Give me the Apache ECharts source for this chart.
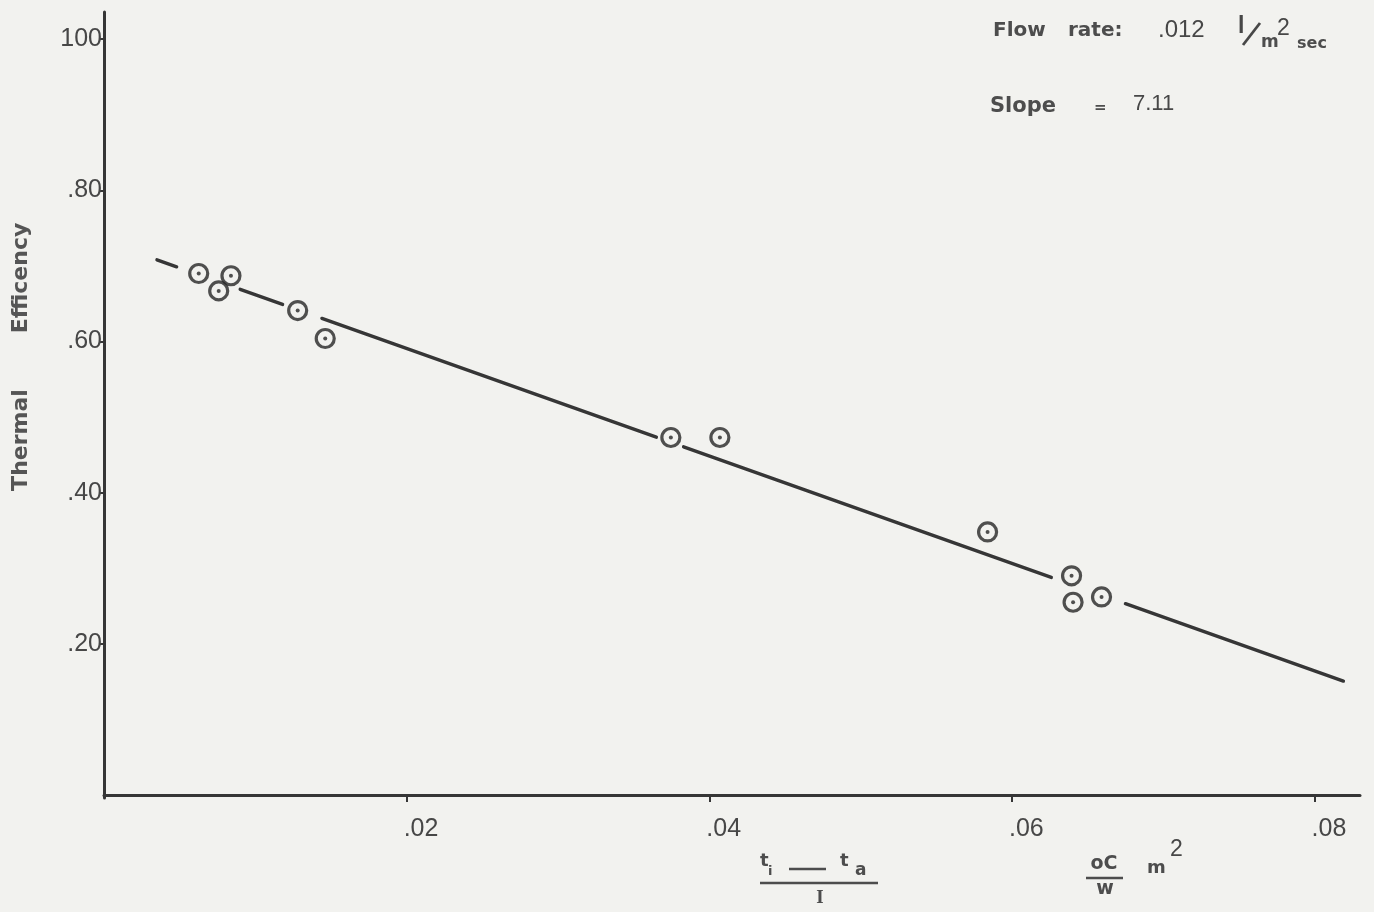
<!DOCTYPE html>
<html>
<head>
<meta charset="utf-8">
<script src="https://cdn.jsdelivr.net/npm/echarts@6/dist/echarts.min.js"></script>
<style>
  html, body { margin: 0; padding: 0; background: #f2f2ef; }
  #chart { width: 1374px; height: 912px; }
</style>
</head>
<body>
<div id="chart"></div>
<script>
// Axis ticks and their printed labels
const xTickValues = [0.02, 0.04, 0.06, 0.08];
const xTickLabels = ['.02', '.04', '.06', '.08'];
const yTickValues = [0.2, 0.4, 0.6, 0.8, 1.0];
const yTickLabels = ['.20', '.40', '.60', '.80', '100'];

// Measured points: (ti - ta) / I  versus thermal efficiency
const heatLoss = [0.00626, 0.00758, 0.00839, 0.0128, 0.01462, 0.03746, 0.0407, 0.05839, 0.06394, 0.06404, 0.06592];
const efficiency = [0.690, 0.667, 0.687, 0.641, 0.604, 0.473, 0.473, 0.348, 0.290, 0.255, 0.262];

// Fitted straight line (slope 7.11), drawn in pieces that stop short of the circles
const fitIntercept = 0.733;
const fitSlope = 7.11;
const fitSegments = [[0.0035, 0.0048], [0.0090, 0.0118], [0.0144, 0.0365], [0.0383, 0.0626], [0.0675, 0.0819]];

const ink = '#363636';
const markInk = '#262626';
const textInk = '#474747';
const noteInk = '#4d4d4d';
const points = heatLoss.map((x, i) => [x, efficiency[i]]);
const fitY = x => fitIntercept - fitSlope * x;

function pickLabel(values, labels) {
  return v => {
    const i = values.findIndex(t => Math.abs(t - v) < 1e-9);
    return i >= 0 ? labels[i] : '';
  };
}

const lineSeries = fitSegments.map(([a, b]) => ({
  type: 'line',
  data: [[a, fitY(a)], [b, fitY(b)]],
  symbol: 'none',
  silent: true,
  lineStyle: { color: ink, width: 3.4, cap: 'round' },
  z: 2
}));

const plainFont = 'Liberation Sans';
const boldFont = '"DejaVu Sans"';

const txt = (x, y, text, font, extra) => ({
  type: 'text', x, y,
  style: Object.assign({ text, fill: noteInk, font, align: 'left', verticalAlign: 'middle' }, extra || {})
});

const chart = echarts.init(document.getElementById('chart'), null, { renderer: 'canvas' });

chart.setOption({
  backgroundColor: '#f2f2ef',
  animation: false,
  grid: { left: 104, right: 14, top: 12, bottom: 114, containLabel: false },
  xAxis: {
    type: 'value',
    min: 0,
    max: 0.083,
    splitLine: { show: false },
    axisLine: { show: true, lineStyle: { color: ink, width: 3 } },
    axisTick: { show: true, customValues: xTickValues, length: 7, lineStyle: { color: ink, width: 2 } },
    axisLabel: {
      customValues: xTickValues,
      formatter: pickLabel(xTickValues, xTickLabels),
      color: textInk,
      fontFamily: plainFont,
      fontSize: 25,
      align: 'left',
      margin: 19,
      padding: [0, 0, 0, -3]
    }
  },
  yAxis: {
    type: 'value',
    min: -0.004,
    max: 1.036,
    splitLine: { show: false },
    axisLine: { show: true, lineStyle: { color: ink, width: 3 } },
    axisTick: { show: true, customValues: yTickValues, length: 5, lineStyle: { color: ink, width: 2 } },
    axisLabel: {
      customValues: yTickValues,
      formatter: pickLabel(yTickValues, yTickLabels),
      color: textInk,
      fontFamily: plainFont,
      fontSize: 25,
      margin: 2,
      verticalAlign: 'middle',
      padding: [0, 0, 20, 0]
    }
  },
  series: [
    ...lineSeries,
    {
      type: 'scatter',
      data: points,
      symbol: 'circle',
      symbolSize: 18,
      itemStyle: { color: 'rgba(0,0,0,0)', borderColor: markInk, borderWidth: 3.2 },
      z: 3
    },
    {
      type: 'scatter',
      data: points,
      symbol: 'circle',
      symbolSize: 4,
      itemStyle: { color: markInk },
      z: 4
    }
  ],
  graphic: [
    // vertical axis title
    { type: 'text', x: 21, y: 440, rotation: Math.PI / 2,
      style: { text: 'Thermal', fill: '#555', font: 'bold 22px "DejaVu Sans"', align: 'center', verticalAlign: 'middle' } },
    { type: 'text', x: 21, y: 278, rotation: Math.PI / 2,
      style: { text: 'Efficency', fill: '#555', font: 'bold 22px "DejaVu Sans"', align: 'center', verticalAlign: 'middle' } },

    // flow rate note
    txt(993, 31, 'Flow', 'bold 20px ' + boldFont),
    txt(1068, 31, 'rate:', 'bold 20px ' + boldFont),
    txt(1158, 30, '.012', '24px ' + plainFont, { fill: textInk }),
    txt(1238, 27, 'l', 'bold 23px ' + plainFont, { fill: textInk }),
    { type: 'line', shape: { x1: 1243, y1: 45, x2: 1260, y2: 23 },
      style: { stroke: textInk, lineWidth: 2.8 } },
    txt(1261, 43, 'm', 'bold 17px ' + boldFont),
    txt(1277, 29, '2', '23px ' + plainFont, { fill: textInk }),
    txt(1297, 44, 'sec', 'bold 16px ' + boldFont),

    // slope note
    txt(990, 107, 'Slope', 'bold 21px ' + boldFont),
    txt(1094, 108, '=', 'bold 15px ' + boldFont),
    txt(1133, 104, '7.11', '22px ' + plainFont, { fill: textInk }),

    // horizontal axis title: (ti - ta) / I   and units  oC/w m2
    txt(760, 861, 't', 'bold 18px ' + boldFont),
    txt(768, 872, 'i', 'bold 13px ' + boldFont),
    { type: 'line', shape: { x1: 789, y1: 869, x2: 826, y2: 869 },
      style: { stroke: noteInk, lineWidth: 2.6 } },
    txt(840, 861, 't', 'bold 18px ' + boldFont),
    txt(855, 871, 'a', 'bold 17px ' + boldFont),
    { type: 'line', shape: { x1: 760, y1: 883, x2: 878, y2: 883 },
      style: { stroke: noteInk, lineWidth: 2.6 } },
    txt(820, 898, 'I', 'bold 19px "Liberation Serif"', { align: 'center' }),

    txt(1104, 864, 'oC', 'bold 19px ' + boldFont, { align: 'center' }),
    { type: 'line', shape: { x1: 1086, y1: 878, x2: 1123, y2: 878 },
      style: { stroke: noteInk, lineWidth: 2.6 } },
    txt(1105, 889, 'w', 'bold 19px ' + boldFont, { align: 'center' }),
    txt(1147, 868, 'm', 'bold 18px ' + boldFont),
    txt(1170, 850, '2', '23px ' + plainFont, { fill: textInk })
  ]
});
</script>
</body>
</html>
